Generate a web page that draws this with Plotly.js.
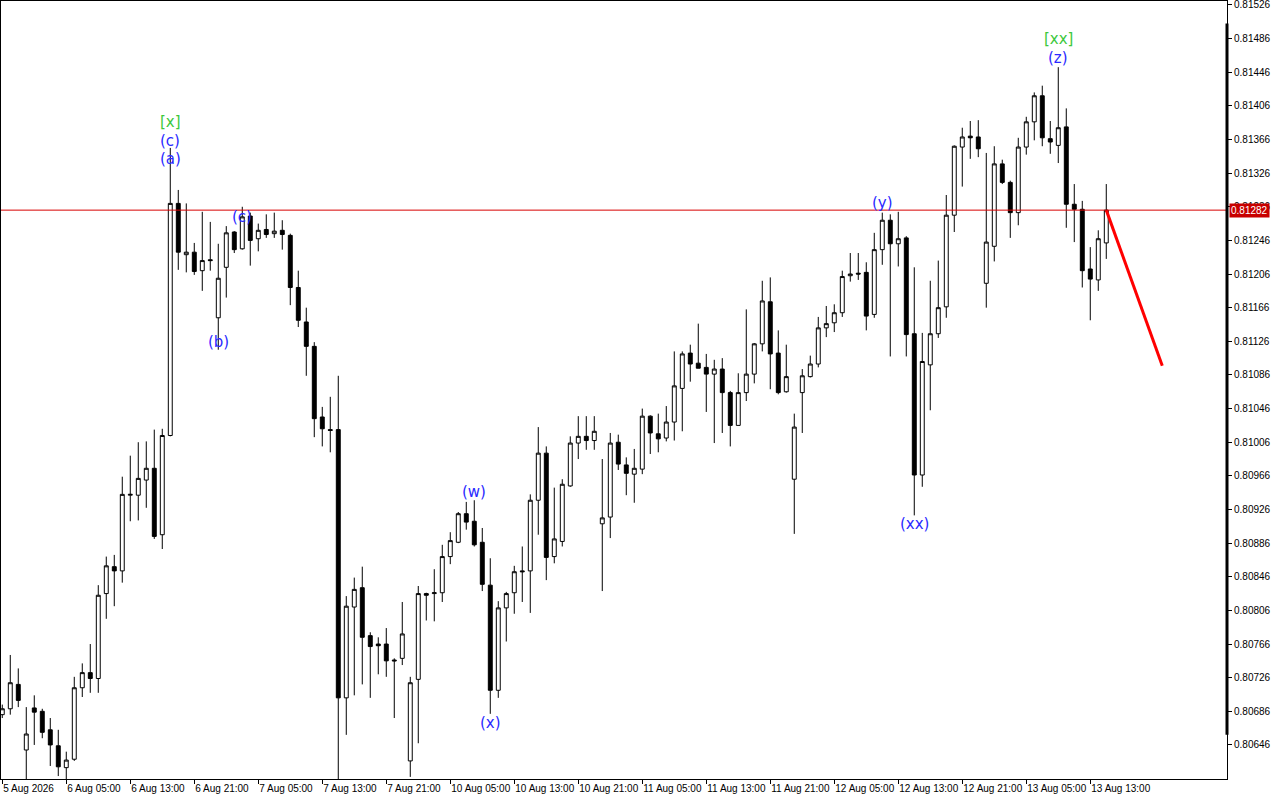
<!DOCTYPE html>
<html>
<head>
<meta charset="utf-8">
<script src="https://cdn.plot.ly/plotly-3.0.1.min.js"></script>
<style>html,body{margin:0;padding:0;background:#fff;}#chart{width:1280px;height:800px;}</style>
</head>
<body>
<div id="chart"></div>
<script>
// Hourly candles, index 0 = 5 Aug 2026 21:00
const opens = [0.80682,0.80689,0.80718,0.80640,0.80690,0.80686,0.80664,0.80645,0.80619,0.80629,
0.80714,0.80732,0.80725,0.80826,0.80858,0.80853,0.80943,0.80943,0.80961,0.80975,
0.80896,0.81014,0.81290,0.81229,0.81232,0.81210,0.81223,0.81154,0.81214,0.81256,
0.81236,0.81275,0.81248,0.81259,0.81254,0.81258,0.81252,0.81190,0.81149,0.81120,
0.81036,0.81021,0.81021,0.80702,0.80810,0.80833,0.80776,0.80766,0.80766,0.80747,
0.80749,0.80627,0.80724,0.80826,0.80826,0.80827,0.80870,0.80887,0.80921,0.80912,
0.80887,0.80836,0.80711,0.80809,0.80827,0.80853,0.80853,0.80937,0.80993,0.80870,
0.80888,0.80954,0.81005,0.81013,0.81008,0.80909,0.80917,0.81006,0.80979,0.80968,
0.80974,0.81037,0.81016,0.81011,0.81030,0.81070,0.81112,0.81100,0.81095,0.81087,
0.81093,0.81065,0.81026,0.81065,0.81087,0.81123,0.81173,0.81112,0.81066,0.80962,
0.81065,0.81084,0.81099,0.81142,0.81148,0.81160,0.81204,0.81207,0.81208,0.81158,
0.81235,0.81270,0.81242,0.81249,0.81135,0.80967,0.81098,0.81135,0.81167,0.81276,
0.81357,0.81370,0.81369,0.81195,0.81239,0.81337,0.81315,0.81279,0.81357,0.81387,
0.81418,0.81367,0.81359,0.81381,0.81289,0.81283,0.81212,0.81199,0.81243];
const highs = [0.80694,0.80753,0.80737,0.80691,0.80705,0.80689,0.80678,0.80664,0.80638,0.80727,
0.80743,0.80766,0.80836,0.80870,0.80872,0.80965,0.80990,0.81006,0.81007,0.81021,
0.81022,0.81356,0.81306,0.81290,0.81243,0.81280,0.81268,0.81242,0.81263,0.81257,
0.81286,0.81279,0.81266,0.81277,0.81279,0.81270,0.81254,0.81210,0.81166,0.81125,
0.81048,0.81060,0.81085,0.80823,0.80845,0.80858,0.80780,0.80774,0.80785,0.80749,
0.80816,0.80727,0.80835,0.80827,0.80855,0.80884,0.80899,0.80923,0.80935,0.80937,
0.80904,0.80868,0.80817,0.80828,0.80859,0.80882,0.80944,0.81024,0.81001,0.80952,
0.80962,0.81013,0.81037,0.81037,0.81037,0.80986,0.81017,0.81015,0.80988,0.80998,
0.81046,0.81038,0.81040,0.81049,0.81114,0.81114,0.81122,0.81147,0.81111,0.81104,
0.81106,0.81067,0.81088,0.81164,0.81124,0.81198,0.81202,0.81139,0.81122,0.81040,
0.81093,0.81109,0.81155,0.81168,0.81170,0.81210,0.81231,0.81231,0.81220,0.81255,
0.81279,0.81277,0.81280,0.81251,0.81214,0.81136,0.81198,0.81222,0.81300,0.81359,
0.81380,0.81388,0.81389,0.81350,0.81358,0.81342,0.81317,0.81368,0.81393,0.81422,
0.81430,0.81388,0.81452,0.81403,0.81313,0.81293,0.81238,0.81258,0.81313];
const lows = [0.80678,0.80682,0.80691,0.80600,0.80646,0.80654,0.80621,0.80609,0.80600,0.80627,
0.80703,0.80708,0.80708,0.80796,0.80811,0.80839,0.80912,0.80913,0.80928,0.80891,
0.80879,0.81013,0.81211,0.81208,0.81205,0.81186,0.81210,0.81116,0.81178,0.81231,
0.81235,0.81216,0.81233,0.81249,0.81249,0.81235,0.81169,0.81143,0.81085,0.81012,
0.81001,0.80994,0.80600,0.80658,0.80705,0.80718,0.80702,0.80730,0.80727,0.80678,
0.80741,0.80608,0.80648,0.80794,0.80793,0.80816,0.80861,0.80886,0.80902,0.80882,
0.80829,0.80683,0.80702,0.80769,0.80802,0.80816,0.80803,0.80896,0.80842,0.80862,
0.80882,0.80953,0.80986,0.80997,0.80997,0.80829,0.80892,0.80973,0.80943,0.80934,
0.80968,0.80992,0.80994,0.81007,0.81008,0.81019,0.81078,0.81094,0.81042,0.81005,
0.81017,0.81001,0.81026,0.81055,0.81076,0.81114,0.81069,0.81063,0.81065,0.80897,
0.81017,0.81083,0.81095,0.81131,0.81137,0.81155,0.81197,0.81199,0.81139,0.81154,
0.81217,0.81108,0.81215,0.81108,0.80919,0.80953,0.81044,0.81130,0.81154,0.81256,
0.81310,0.81343,0.81345,0.81166,0.81221,0.81313,0.81249,0.81264,0.81348,0.81365,
0.81358,0.81349,0.81338,0.81261,0.81244,0.81190,0.81151,0.81186,0.81224];
const closes = [0.80689,0.80720,0.80699,0.80659,0.80685,0.80661,0.80646,0.80620,0.80628,0.80714,
0.80732,0.80725,0.80824,0.80859,0.80853,0.80944,0.80944,0.80963,0.80975,0.80894,
0.81014,0.81290,0.81232,0.81232,0.81209,0.81222,0.81222,0.81201,0.81255,0.81235,
0.81274,0.81246,0.81258,0.81253,0.81257,0.81253,0.81190,0.81151,0.81120,0.81034,
0.81022,0.81020,0.80702,0.80811,0.80831,0.80774,0.80763,0.80764,0.80746,0.80746,
0.80778,0.80720,0.80826,0.80824,0.80827,0.80870,0.80889,0.80921,0.80911,0.80884,
0.80837,0.80711,0.80809,0.80826,0.80852,0.80852,0.80937,0.80993,0.80869,0.80891,
0.80956,0.81005,0.81013,0.81008,0.81019,0.80916,0.81005,0.80980,0.80969,0.80975,
0.81037,0.81017,0.81010,0.81030,0.81073,0.81111,0.81099,0.81094,0.81087,0.81093,
0.81065,0.81026,0.81065,0.81087,0.81123,0.81174,0.81111,0.81065,0.81084,0.81024,
0.81085,0.81099,0.81142,0.81147,0.81160,0.81203,0.81206,0.81206,0.81156,0.81235,
0.81270,0.81242,0.81248,0.81134,0.80967,0.81102,0.81135,0.81166,0.81276,0.81358,
0.81369,0.81368,0.81355,0.81244,0.81337,0.81315,0.81279,0.81357,0.81387,0.81418,
0.81368,0.81363,0.81380,0.81289,0.81283,0.81210,0.81200,0.81248,0.81282];

const tickIdx = [0,8,16,24,32,40,48,56,64,72,80,88,96,104,112,120,128,136];
const tickText = ['5 Aug 2026','6 Aug 05:00','6 Aug 13:00','6 Aug 21:00','7 Aug 05:00','7 Aug 13:00',
'7 Aug 21:00','10 Aug 05:00','10 Aug 13:00','10 Aug 21:00','11 Aug 05:00','11 Aug 13:00',
'11 Aug 21:00','12 Aug 05:00','12 Aug 13:00','12 Aug 21:00','13 Aug 05:00','13 Aug 13:00'];
const priceTicks = [0.81526,0.81486,0.81446,0.81406,0.81366,0.81326,0.81286,0.81246,0.81206,0.81166,
0.81126,0.81086,0.81046,0.81006,0.80966,0.80926,0.80886,0.80846,0.80806,0.80766,0.80726,0.80686,0.80646];

const currentPrice = 0.81282;
const forecastX = [138, 145];
const forecastY = [0.81282, 0.81097];

const labelText = ['[x]','(c)','(a)','(b)','(c)','(w)','(x)','(y)','(xx)','[xx]','(z)'];
const labelIdx = [21,21,21,27,30,59,61,110,114,132,132];
const labelPrice = [0.81387,0.81364,0.81343,0.81125,0.81274,0.80947,0.80672,0.81290,0.80909,0.81486,0.81463];
const labelKind = ['major','minor','minor','minor','minor','minor','minor','minor','minor','major','minor'];

const idx = opens.map((_, i) => i);

const traces = [
  {
    type: 'candlestick',
    x: idx, open: opens, high: highs, low: lows, close: closes,
    increasing: {line: {color: '#000000', width: 1}, fillcolor: '#FFFFFF'},
    decreasing: {line: {color: '#000000', width: 1}, fillcolor: '#000000'},
    whiskerwidth: 0,
    hoverinfo: 'skip',
    showlegend: false
  },
  {
    type: 'scatter', mode: 'lines',
    x: forecastX, y: forecastY,
    line: {color: '#FF0000', width: 3},
    hoverinfo: 'skip', showlegend: false
  }
];

const annotations = labelText.map((t, k) => ({
  x: labelIdx[k], y: labelPrice[k], xref: 'x', yref: 'y',
  text: t, showarrow: false, xanchor: 'center', yanchor: 'middle',
  font: {family: 'DejaVu Sans, Verdana, sans-serif', size: 15,
         color: labelKind[k] === 'major' ? '#3CC83C' : '#2A2AFF'}
}));
annotations.push({
  xref: 'paper', x: 1, xanchor: 'left', xshift: 2,
  yref: 'y', y: currentPrice, yanchor: 'middle',
  text: currentPrice.toFixed(5), showarrow: false,
  bgcolor: '#C80000', borderpad: 1,
  font: {family: 'Liberation Sans, Arial, sans-serif', size: 10, color: '#FFFFFF'}
});

const layout = {
  width: 1280, height: 800,
  margin: {l: 1, r: 53, t: 1, b: 21},
  paper_bgcolor: '#FFFFFF', plot_bgcolor: '#FFFFFF',
  showlegend: false,
  dragmode: false,
  xaxis: {
    type: 'linear', range: [-0.16, 153.09],
    tickvals: tickIdx, ticktext: tickText,
    ticks: 'outside', ticklen: 4, tickcolor: '#000', tickwidth: 1,
    ticklabelposition: 'outside right', tickangle: 0, ticklabeloverflow: 'allow',
    ticklabelstandoff: 0,
    tickfont: {family: 'Liberation Sans, Arial, sans-serif', size: 10, color: '#000'},
    showgrid: false, zeroline: false,
    showline: true, mirror: true, linecolor: '#000', linewidth: 1,
    rangeslider: {visible: false}, fixedrange: true
  },
  yaxis: {
    side: 'right', range: [0.806055, 0.815307],
    tickvals: priceTicks, ticktext: priceTicks.map(v => v.toFixed(5)),
    ticks: 'outside', ticklen: 4, tickcolor: '#000', tickwidth: 1,
    ticklabeloverflow: 'allow',
    tickfont: {family: 'Liberation Sans, Arial, sans-serif', size: 10, color: '#000'},
    showgrid: false, zeroline: false,
    showline: true, mirror: true, linecolor: '#000', linewidth: 1,
    fixedrange: true
  },
  shapes: [
    {type: 'line', xref: 'paper', x0: 0, x1: 1, yref: 'y', y0: currentPrice, y1: currentPrice,
     line: {color: '#D80000', width: 1}},
    {type: 'line', xref: 'paper', x0: 1, x1: 1, yref: 'paper', y0: 0.057, y1: 0.971,
     line: {color: '#000000', width: 3}}
  ],
  annotations: annotations
};

Plotly.newPlot('chart', traces, layout, {staticPlot: true, displayModeBar: false});
</script>
</body>
</html>
